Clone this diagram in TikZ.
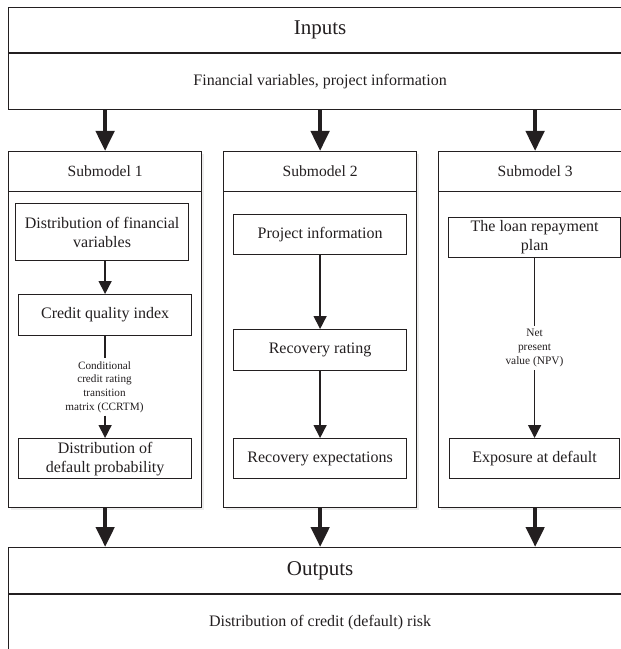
\documentclass[tikz,border=0pt]{standalone}
\usepackage{fontspec}
\setmainfont{Liberation Serif}
\usetikzlibrary{arrows.meta,shadows}
\definecolor{ink}{HTML}{231F20}
\begin{document}
\begin{tikzpicture}[x=1bp,y=-1bp,
  box/.style={draw=ink,line width=1.2bp,rectangle,inner sep=0pt,anchor=north west,
    text=ink,align=center,font=\fontsize{16bp}{19bp}\selectfont},
  bigtitle/.style={box,font=\fontsize{21bp}{24bp}\selectfont},
  frame/.style={box,fill=white,line width=1.3bp,
    drop shadow={shadow xshift=2bp,shadow yshift=-2.5bp,opacity=0.18,fill=black!40}},
  divider/.style={draw=ink,line width=1.9bp},
  biga/.style={draw=ink,line width=4.5bp,-{Triangle[width=18bp,length=20bp]}},
  thina/.style={draw=ink,line width=1.5bp,-{Triangle[width=13bp,length=13bp]}},
  thinl/.style={draw=ink,line width=1.5bp},
  lab/.style={inner sep=3bp,align=center,text=ink,font=\fontsize{11.2bp}{13.6bp}\selectfont}]
\useasboundingbox (0,0) rectangle (621,649);
\clip (0,0) rectangle (621,649);

% Inputs
\node[bigtitle,minimum width=623bp,minimum height=45bp] (inh) at (8,7) {Inputs};
\node[box,minimum width=623bp,minimum height=57bp] (inb) at (8,52) {Financial variables, project information};
\draw[divider] (inh.south west) -- (inh.south east);

% Submodel frames
\node[frame,minimum width=193bp,minimum height=356bp] (sm1) at (8,151) {};
\node[frame,minimum width=193bp,minimum height=356bp] (sm2) at (223,151) {};
\node[frame,minimum width=193bp,minimum height=356bp] (sm3) at (438,151) {};
\node[box,minimum width=193bp,minimum height=40bp,font=\fontsize{15.6bp}{18bp}\selectfont] (h1) at (8,151) {Submodel 1};
\node[box,minimum width=193bp,minimum height=40bp,font=\fontsize{15.6bp}{18bp}\selectfont] (h2) at (223,151) {Submodel 2};
\node[box,minimum width=193bp,minimum height=40bp,font=\fontsize{15.6bp}{18bp}\selectfont] (h3) at (438,151) {Submodel 3};

% Submodel 1 contents
\node[box,minimum width=173bp,minimum height=57bp] (b11) at (15,203) {Distribution of financial\\variables};
\node[box,minimum width=173bp,minimum height=41bp] (b12) at (18,294) {Credit quality index};
\node[box,minimum width=173bp,minimum height=40bp] (b13) at (18,438) {Distribution of\\default probability};
\node[lab] (l1) at (104.5,387) {Conditional\\credit rating\\transition\\matrix (CCRTM)};
\draw[thina] (b11.south -| b12.north) -- (b12.north);
\draw[thinl] (b12.south) -- (b12.south |- l1.north);
\draw[thina] (b13.north |- l1.south) -- (b13.north);

% Submodel 2 contents
\node[box,minimum width=173bp,minimum height=40bp] (b21) at (233,214) {Project information};
\node[box,minimum width=173bp,minimum height=41bp] (b22) at (233,329) {Recovery rating};
\node[box,minimum width=173bp,minimum height=40bp] (b23) at (233,438) {Recovery expectations};
\draw[thina] (b21.south) -- (b22.north);
\draw[thina] (b22.south) -- (b23.north);

% Submodel 3 contents
\node[box,minimum width=172bp,minimum height=40bp] (b31) at (448,217) {The loan repayment\\plan};
\node[box,minimum width=170bp,minimum height=40bp] (b33) at (449,438) {Exposure at default};
\node[lab,font=\fontsize{11.4bp}{14bp}\selectfont] (l3) at (534.5,348) {Net\\present\\value (NPV)};
\draw[thinl] (b33.north |- b31.south) -- (b33.north |- l3.north);
\draw[thina] (b33.north |- l3.south) -- (b33.north);

% Outputs
\node[bigtitle,minimum width=623bp,minimum height=46bp] (outh) at (8,547) {Outputs};
\node[box,minimum width=623bp,minimum height=58bp] (outb) at (8,593) {Distribution of credit (default) risk};
\draw[divider] (outh.south west) -- (outh.south east);

% Big arrows
\draw[biga] (h1.north |- inb.south) -- (h1.north);
\draw[biga] (h2.north |- inb.south) -- (h2.north);
\draw[biga] (h3.north |- inb.south) -- (h3.north);
\draw[biga] (sm1.south) -- (sm1.south |- outh.north);
\draw[biga] (sm2.south) -- (sm2.south |- outh.north);
\draw[biga] (sm3.south) -- (sm3.south |- outh.north);
\end{tikzpicture}
\end{document}
